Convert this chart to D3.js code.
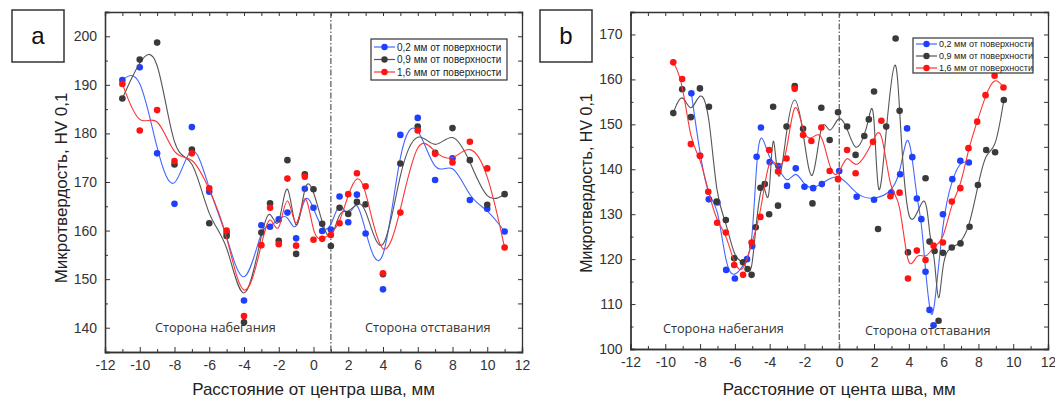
<!DOCTYPE html>
<html>
<head>
<meta charset="utf-8">
<script src="https://cdn.jsdelivr.net/npm/d3@7"></script>
<style>
  body { margin: 0; background: #fff; }
  svg { display: block; font-family: Arial, "Liberation Sans", sans-serif; }
</style>
</head>
<body>
<svg id="chart" width="1055" height="398"></svg>
<script>
// panel a: distance from weld centre, mm
const aX = [-11, -10, -9, -8, -7, -6, -5, -4, -3, -2.5, -2, -1.5, -1, -0.5, 0, 0.5, 1, 1.5, 2, 2.5, 3, 4, 5, 6, 7, 8, 9, 10, 11];
const aBlue = [191, 193.6, 175.9, 165.5, 181.3, 168, 159.5, 145.6, 161.1, 160.8, 162.3, 163.7, 158.4, 168.6, 164.7, 159.9, 160.2, 167, 161.7, 167.4, 159.4, 147.9, 179.7, 183.2, 170.4, 174.9, 166.3, 164.5, 159.8];
const aBlack = [187.2, 195.2, 198.7, 173.6, 176.7, 161.5, 158.9, 141.1, 159.6, 165.6, 157.9, 174.5, 155.2, 171.6, 168.5, 161.4, 156.8, 164.7, 163.4, 165.9, 165.4, 151, 173.8, 181.4, 176, 181.1, 174.5, 165.3, 167.5];
const aRed = [190.2, 180.6, 184.8, 174.3, 175.9, 168.7, 160, 142.4, 157, 164.7, 157.2, 170.7, 156.9, 171.1, 158.1, 158.3, 159.1, 161.5, 167.5, 171.8, 169.1, 151.2, 163.7, 180.6, 175.8, 174, 178.3, 172.8, 156.5];

// panel b
const bBlueX = [-8.5, -8, -7.5, -7, -6.5, -6, -5.3, -5, -4.75, -4.5, -4, -3.5, -3, -2.5, -2, -1.5, -1, 0, 1, 2, 3, 3.5, 3.9, 4.2, 4.46, 4.72, 4.96, 5.19, 5.42, 5.96, 6.5, 6.96, 7.45];
const bBlueY = [156.9, 143, 133.3, 132.6, 117.6, 115.7, 120, 122.9, 142.8, 149.3, 141.6, 140.7, 136.3, 140.2, 136.1, 135.8, 136.7, 139.6, 133.9, 133.2, 134.8, 138.9, 149.1, 142.7, 133.5, 128.9, 117.2, 108.7, 105.3, 130, 137.8, 141.9, 141.5];
const bBlackX = [-9.54, -9.03, -8.53, -8.01, -7.49, -7.05, -6.52, -6.04, -5.53, -5.27, -5.04, -4.8, -4.53, -4.28, -4.03, -3.8, -3.52, -3.03, -2.56, -2.08, -1.54, -1.03, -0.55, -0.07, 0.45, 0.94, 1.44, 1.7, 2.0, 2.23, 2.7, 3.24, 3.47, 3.95, 4.96, 5.19, 5.48, 5.71, 5.96, 6.47, 6.97, 7.49, 7.97, 8.45, 8.96, 9.46];
const bBlackY = [152.5, 157.8, 151.6, 158, 153.9, 132.8, 128.7, 120.2, 119.3, 117.8, 116.5, 127.1, 135.9, 136.7, 130, 153.9, 131.9, 149.5, 158.5, 149, 132.4, 153.7, 146.5, 152.7, 149.5, 143.2, 147.4, 151.1, 157.3, 126.7, 149.5, 169.1, 153, 121.5, 138, 123.9, 121.8, 106.3, 121.4, 122.6, 123.5, 127.2, 136.5, 144.3, 143.8, 155.4];
const bRedX = [-9.54, -9.03, -8.53, -8.01, -7.53, -7.02, -6.52, -6.04, -5.53, -5.04, -4.53, -4.03, -3.52, -3.03, -2.56, -2.08, -1.6, -1.03, -0.55, -0.07, 0.45, 0.94, 1.94, 2.42, 2.94, 3.47, 3.95, 4.46, 4.96, 5.42, 5.96, 6.47, 6.96, 7.43, 7.93, 8.41, 8.93, 9.44];
const bRedY = [163.8, 160.1, 145.6, 143, 135, 128.1, 125.9, 118.7, 116.5, 123.7, 129.4, 144.3, 139.5, 142.4, 157.9, 147.6, 146.3, 149.3, 139.6, 137.8, 144.3, 139.1, 146.1, 150.8, 134, 134.8, 115.7, 121.9, 119.8, 123, 123.7, 132.8, 135.8, 144.7, 150.6, 156.5, 160.8, 158.2];

const seriesNames = ['0,2 мм от поверхности', '0,9 мм от поверхности', '1,6 мм от поверхности'];
const dotColors = ['#1f3fff', '#3a3a3a', '#ff1414'];
const lineColors = ['#4466ff', '#555555', '#ff3333'];

const svg = d3.select('#chart');

function zip(xs, ys) {
  return xs.map((x, i) => [x, ys[i]]);
}

// plain hyphen for negatives, like the original
const fmt = d => String(d);

function drawPanel(p) {
  const g = svg.append('g');
  const x = d3.scaleLinear().domain([-12, 12]).range([p.left, p.right]);
  const y = d3.scaleLinear().domain(p.yDomain).range([p.bottom, p.top]);
  const xMajor = d3.range(-12, 13, 2);
  const xMinor = d3.range(-11, 12, 2);
  const yMajor = d3.range(p.yTicks[0], p.yTicks[1] + 1, 10);
  const yMinor = d3.range(p.yDomain[0], p.yDomain[1] + 1, 5).filter(v => v % 10 !== 0);

  // axes with inward ticks
  g.append('g').attr('transform', `translate(0,${p.bottom})`)
    .call(d3.axisBottom(x).tickValues(xMajor).tickSize(-5).tickPadding(8).tickFormat(fmt));
  g.append('g').attr('transform', `translate(0,${p.bottom})`)
    .call(d3.axisBottom(x).tickValues(xMinor).tickSize(-3).tickFormat(''));
  g.append('g').attr('transform', `translate(0,${p.top})`)
    .call(d3.axisTop(x).tickValues(d3.range(-12, 13, 1)).tickSize(-4).tickFormat(''));
  g.append('g').attr('transform', `translate(${p.left},0)`)
    .call(d3.axisLeft(y).tickValues(yMajor).tickSize(-5).tickPadding(8).tickFormat(fmt));
  g.append('g').attr('transform', `translate(${p.left},0)`)
    .call(d3.axisLeft(y).tickValues(yMinor).tickSize(-3).tickFormat(''));
  g.append('g').attr('transform', `translate(${p.right},0)`)
    .call(d3.axisRight(y).tickValues(yMajor.concat(yMinor)).tickSize(-4).tickFormat(''));

  g.selectAll('.domain').attr('stroke', '#333').attr('stroke-width', 1.3);
  g.selectAll('.tick line').attr('stroke', '#333');
  g.selectAll('.tick text').attr('fill', '#333').style('font-size', '14px');

  // dash-dot divider
  g.append('line')
    .attr('x1', x(p.divider)).attr('x2', x(p.divider))
    .attr('y1', p.top).attr('y2', p.bottom)
    .attr('stroke', '#555').attr('stroke-width', 1.2)
    .attr('stroke-dasharray', '6,2,1.5,2');

  // side captions
  p.captions.forEach(c => {
    g.append('text').attr('x', c.x).attr('y', c.y).text(c.text)
      .style('font-family', '"Open Sans", sans-serif').style('font-size', '12.7px').attr('fill', '#333');
  });

  // series: smoothed line then points
  const line = d3.line().x(d => x(d[0])).y(d => y(d[1])).curve(d3.curveBasis);
  p.series.forEach((s, i) => {
    g.append('path').datum(s).attr('d', line)
      .attr('fill', 'none').attr('stroke', lineColors[i]).attr('stroke-width', 1.1);
    g.selectAll(null).data(s).enter().append('circle')
      .attr('cx', d => x(d[0])).attr('cy', d => y(d[1])).attr('r', 3.3)
      .attr('fill', dotColors[i]);
  });

  // legend
  const lg = g.append('g');
  const L = p.legend;
  lg.append('rect').attr('x', L.x).attr('y', L.y).attr('width', L.w).attr('height', L.h)
    .attr('fill', '#fff').attr('stroke', '#333').attr('stroke-width', 1.2);
  seriesNames.forEach((name, i) => {
    const yy = L.y + L.first + i * L.step;
    lg.append('line').attr('x1', L.x + 3).attr('x2', L.x + 24).attr('y1', yy).attr('y2', yy)
      .attr('stroke', lineColors[i]).attr('stroke-width', 1.2);
    lg.append('circle').attr('cx', L.x + 13.5).attr('cy', yy).attr('r', 3.2).attr('fill', dotColors[i]);
    lg.append('text').attr('x', L.x + 26).attr('y', yy).attr('dy', '0.35em').text(name)
      .style('font-size', L.font + 'px').attr('fill', '#222');
  });

  // axis titles
  g.append('text')
    .attr('transform', `translate(${p.yLabelX},${p.yLabelY}) rotate(-90)`)
    .attr('text-anchor', 'middle').attr('dy', '0.35em')
    .style('font-size', p.yLabelSize + 'px').attr('fill', '#222')
    .text('Микротвердость, HV 0,1');
  g.append('text')
    .attr('x', (p.left + p.right) / 2).attr('y', 395)
    .attr('text-anchor', 'middle')
    .style('font-size', '17px').attr('fill', '#222')
    .text(p.xLabel);

  // panel letter box
  g.append('rect').attr('x', p.boxX).attr('y', 10).attr('width', 52).attr('height', 52)
    .attr('fill', 'none').attr('stroke', '#333').attr('stroke-width', 1.5);
  g.append('text').attr('x', p.boxX + 26).attr('y', 36).attr('dy', '0.35em')
    .attr('text-anchor', 'middle').style('font-size', '24px').attr('fill', '#111')
    .text(p.letter);
}

drawPanel({
  left: 105, right: 522, top: 12, bottom: 352,
  yDomain: [135, 205], yTicks: [140, 200],
  divider: 1,
  series: [zip(aX, aBlue), zip(aX, aBlack), zip(aX, aRed)],
  captions: [
    { x: 155, y: 332, text: 'Сторона набегания' },
    { x: 365, y: 332, text: 'Сторона отставания' }
  ],
  legend: { x: 371, y: 39, w: 136, h: 41, first: 8, step: 12.5, font: 10 },
  yLabelX: 61, yLabelY: 188, yLabelSize: 17,
  xLabel: 'Расстояние от центра шва, мм',
  boxX: 12, letter: 'a'
});

drawPanel({
  left: 630.5, right: 1048, top: 12, bottom: 349,
  yDomain: [100, 175], yTicks: [100, 170],
  divider: 0,
  series: [zip(bBlueX, bBlueY), zip(bBlackX, bBlackY), zip(bRedX, bRedY)],
  captions: [
    { x: 663, y: 333, text: 'Сторона набегания' },
    { x: 865, y: 335, text: 'Сторона отставания' }
  ],
  legend: { x: 913, y: 38, w: 120, h: 35, first: 6, step: 12, font: 9 },
  yLabelX: 586, yLabelY: 183, yLabelSize: 16,
  xLabel: 'Расстояние от цента шва, мм',
  boxX: 540, letter: 'b'
});
</script>
</body>
</html>
